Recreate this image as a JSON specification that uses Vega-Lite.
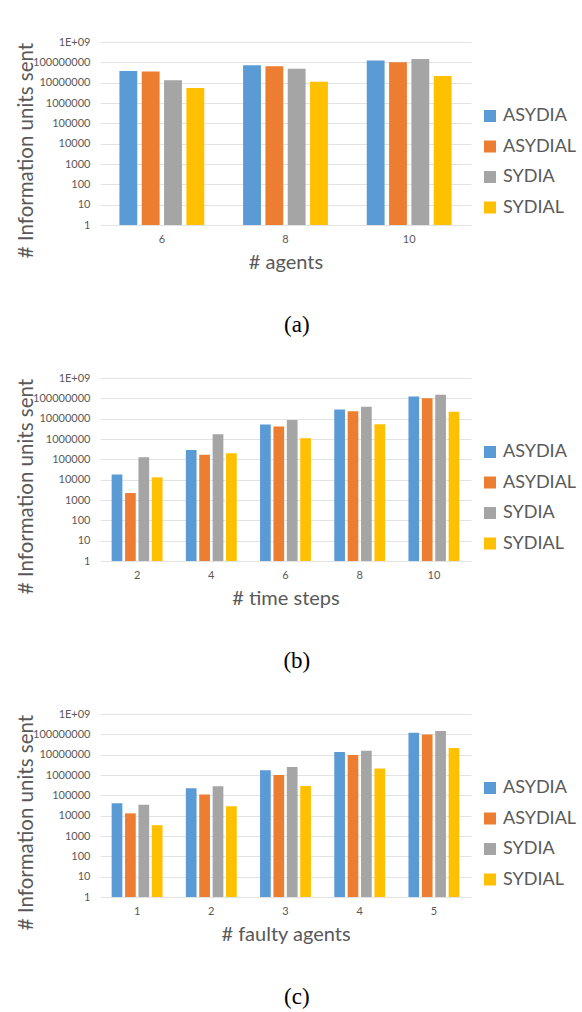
{
  "$schema": "https://vega.github.io/schema/vega-lite/v6.json",
  "background": "white",
  "padding": {"left": 16, "top": 36, "right": 0, "bottom": 0},
  "spacing": 35,
  "datasets": {
    "dsA": [
      {"x": 6, "s": "ASYDIA", "v": 38000000}, {"x": 6, "s": "ASYDIAL", "v": 35000000}, {"x": 6, "s": "SYDIA", "v": 13000000}, {"x": 6, "s": "SYDIAL", "v": 5500000},
      {"x": 8, "s": "ASYDIA", "v": 72000000}, {"x": 8, "s": "ASYDIAL", "v": 65000000}, {"x": 8, "s": "SYDIA", "v": 49000000}, {"x": 8, "s": "SYDIAL", "v": 11000000},
      {"x": 10, "s": "ASYDIA", "v": 124000000}, {"x": 10, "s": "ASYDIAL", "v": 100000000}, {"x": 10, "s": "SYDIA", "v": 147000000}, {"x": 10, "s": "SYDIAL", "v": 21000000}
    ],
    "dsB": [
      {"x": 2, "s": "ASYDIA", "v": 18000}, {"x": 2, "s": "ASYDIAL", "v": 2200}, {"x": 2, "s": "SYDIA", "v": 126000}, {"x": 2, "s": "SYDIAL", "v": 13000},
      {"x": 4, "s": "ASYDIA", "v": 290000}, {"x": 4, "s": "ASYDIAL", "v": 170000}, {"x": 4, "s": "SYDIA", "v": 1700000}, {"x": 4, "s": "SYDIAL", "v": 200000},
      {"x": 6, "s": "ASYDIA", "v": 5100000}, {"x": 6, "s": "ASYDIAL", "v": 4100000}, {"x": 6, "s": "SYDIA", "v": 8700000}, {"x": 6, "s": "SYDIAL", "v": 1100000},
      {"x": 8, "s": "ASYDIA", "v": 28000000}, {"x": 8, "s": "ASYDIAL", "v": 23000000}, {"x": 8, "s": "SYDIA", "v": 39000000}, {"x": 8, "s": "SYDIAL", "v": 5300000},
      {"x": 10, "s": "ASYDIA", "v": 124000000}, {"x": 10, "s": "ASYDIAL", "v": 100000000}, {"x": 10, "s": "SYDIA", "v": 150000000}, {"x": 10, "s": "SYDIAL", "v": 22000000}
    ],
    "dsC": [
      {"x": 1, "s": "ASYDIA", "v": 41000}, {"x": 1, "s": "ASYDIAL", "v": 13000}, {"x": 1, "s": "SYDIA", "v": 34000}, {"x": 1, "s": "SYDIAL", "v": 3400},
      {"x": 2, "s": "ASYDIA", "v": 220000}, {"x": 2, "s": "ASYDIAL", "v": 110000}, {"x": 2, "s": "SYDIA", "v": 280000}, {"x": 2, "s": "SYDIAL", "v": 29000},
      {"x": 3, "s": "ASYDIA", "v": 1700000}, {"x": 3, "s": "ASYDIAL", "v": 1000000}, {"x": 3, "s": "SYDIA", "v": 2500000}, {"x": 3, "s": "SYDIAL", "v": 290000},
      {"x": 4, "s": "ASYDIA", "v": 13600000}, {"x": 4, "s": "ASYDIAL", "v": 9700000}, {"x": 4, "s": "SYDIA", "v": 15800000}, {"x": 4, "s": "SYDIAL", "v": 2100000},
      {"x": 5, "s": "ASYDIA", "v": 120000000}, {"x": 5, "s": "ASYDIAL", "v": 97000000}, {"x": 5, "s": "SYDIA", "v": 146000000}, {"x": 5, "s": "SYDIAL", "v": 21000000}
    ]
  },
  "config": {
    "view": {"stroke": null},
    "axis": {
      "labelFont": "Lato", "labelFontSize": 11, "labelColor": "#595959",
      "titleFont": "Lato", "titleFontSize": 20, "titleColor": "#595959", "titleFontWeight": "normal",
      "ticks": false, "domain": false, "gridColor": "#e3e3e3", "gridWidth": 1
    },
    "axisX": {"labelAngle": 0, "labelPadding": 8, "titlePadding": 8, "grid": false},
    "axisY": {"labelPadding": 10, "titlePadding": -4, "titleFontSize": 20.5, "titleY": 108},
    "legend": {
      "title": null, "symbolType": "square", "symbolSize": 144, "symbolStrokeWidth": 0, "symbolOpacity": 1,
      "labelFont": "Lato", "labelFontSize": 18, "labelColor": "#595959", "rowPadding": 12.5, "labelOffset": 4
    },
    "title": {"font": "Liberation Serif", "fontSize": 23, "fontWeight": "normal", "color": "#000000", "orient": "bottom", "frame": "bounds", "anchor": "middle", "offset": 41.5}
  },
  "resolve": {"scale": {"x": "independent", "xOffset": "independent", "color": "independent"}, "legend": {"color": "independent"}},
  "vconcat": [
    {
      "data": {"name": "dsA"},
      "width": 371, "height": 183,
      "title": {"text": "(a)"},
      "mark": {"type": "bar"},
      "encoding": {
        "x": {"field": "x", "type": "ordinal", "scale": {"paddingInner": 0.314, "paddingOuter": 0.157}, "axis": {"title": "# agents"}},
        "xOffset": {"field": "s", "type": "nominal", "scale": {"paddingInner": 0.2, "paddingOuter": 0}},
        "y": {"field": "v", "type": "quantitative", "scale": {"type": "log", "domain": [1, 1000000000]}, "axis": {"title": "# Information units sent", "values": [1, 10, 100, 1000, 10000, 100000, 1000000, 10000000, 100000000, 1000000000], "labelExpr": "datum.value >= 1000000000 ? '1E+09' : format(datum.value, 'd')", "grid": true}},
        "y2": {"datum": 1},
        "color": {"field": "s", "type": "nominal", "scale": {"domain": ["ASYDIA", "ASYDIAL", "SYDIA", "SYDIAL"], "range": ["#5B9BD5", "#ED7D31", "#A5A5A5", "#FFC000"]}, "legend": {"orient": "none", "legendX": 381, "legendY": 65}}
      }
    },
    {
      "data": {"name": "dsB"},
      "width": 371, "height": 183,
      "title": {"text": "(b)"},
      "mark": {"type": "bar"},
      "encoding": {
        "x": {"field": "x", "type": "ordinal", "scale": {"paddingInner": 0.314, "paddingOuter": 0.157}, "axis": {"title": "# time steps"}},
        "xOffset": {"field": "s", "type": "nominal", "scale": {"paddingInner": 0.2, "paddingOuter": 0}},
        "y": {"field": "v", "type": "quantitative", "scale": {"type": "log", "domain": [1, 1000000000]}, "axis": {"title": "# Information units sent", "values": [1, 10, 100, 1000, 10000, 100000, 1000000, 10000000, 100000000, 1000000000], "labelExpr": "datum.value >= 1000000000 ? '1E+09' : format(datum.value, 'd')", "grid": true}},
        "y2": {"datum": 1},
        "color": {"field": "s", "type": "nominal", "scale": {"domain": ["ASYDIA", "ASYDIAL", "SYDIA", "SYDIAL"], "range": ["#5B9BD5", "#ED7D31", "#A5A5A5", "#FFC000"]}, "legend": {"orient": "none", "legendX": 381, "legendY": 65}}
      }
    },
    {
      "data": {"name": "dsC"},
      "width": 371, "height": 183,
      "title": {"text": "(c)"},
      "mark": {"type": "bar"},
      "encoding": {
        "x": {"field": "x", "type": "ordinal", "scale": {"paddingInner": 0.314, "paddingOuter": 0.157}, "axis": {"title": "# faulty agents"}},
        "xOffset": {"field": "s", "type": "nominal", "scale": {"paddingInner": 0.2, "paddingOuter": 0}},
        "y": {"field": "v", "type": "quantitative", "scale": {"type": "log", "domain": [1, 1000000000]}, "axis": {"title": "# Information units sent", "values": [1, 10, 100, 1000, 10000, 100000, 1000000, 10000000, 100000000, 1000000000], "labelExpr": "datum.value >= 1000000000 ? '1E+09' : format(datum.value, 'd')", "grid": true}},
        "y2": {"datum": 1},
        "color": {"field": "s", "type": "nominal", "scale": {"domain": ["ASYDIA", "ASYDIAL", "SYDIA", "SYDIAL"], "range": ["#5B9BD5", "#ED7D31", "#A5A5A5", "#FFC000"]}, "legend": {"orient": "none", "legendX": 381, "legendY": 65}}
      }
    }
  ]
}
